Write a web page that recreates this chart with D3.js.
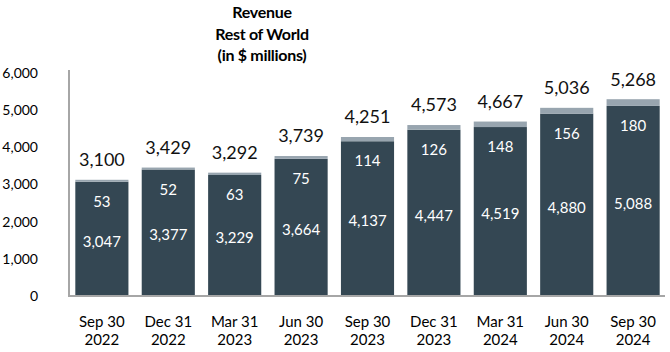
<!DOCTYPE html>
<html>
<head>
<meta charset="utf-8">
<script src="https://cdn.jsdelivr.net/npm/d3@7"></script>
<style>
  body { margin: 0; background: #fff; }
  text { font-family: Lato, "Open Sans", sans-serif; }
</style>
</head>
<body>
<div id="chart"></div>
<script>
var quarters = ["Sep 30|2022", "Dec 31|2022", "Mar 31|2023", "Jun 30|2023", "Sep 30|2023",
                "Dec 31|2023", "Mar 31|2024", "Jun 30|2024", "Sep 30|2024"];
var baseValues = [3047, 3377, 3229, 3664, 4137, 4447, 4519, 4880, 5088];
var topValues = [53, 52, 63, 75, 114, 126, 148, 156, 180];
var totals = [3100, 3429, 3292, 3739, 4251, 4573, 4667, 5036, 5268];
var yTicks = [0, 1000, 2000, 3000, 4000, 5000, 6000];
var titleLines = ["Revenue", "Rest of World", "(in $ millions)"];

function drawChart() {
    var w = 670;
    var h = 352;
    var darkColor = "#344753";
    var lightColor = "#98a5af";
    var fmt = d3.format(",");

    var svg = d3.select("#chart")
                .append("svg")
                .attr("width", w)
                .attr("height", h);

    var x = d3.scaleBand()
              .domain(quarters)
              .range([70, 665])
              .paddingInner(0.2)
              .paddingOuter(0.08);

    var y = d3.scaleLinear()
              .domain([0, 6000])
              .range([295, 72]);

    // title
    svg.append("text")
        .attr("x", 262)
        .attr("y", 18)
        .attr("text-anchor", "middle")
        .style("font-weight", "bold")
        .style("font-size", "16px")
        .style("letter-spacing", "-0.3px")
        .selectAll("tspan")
        .data(titleLines)
        .enter()
        .append("tspan")
        .attr("x", 262)
        .attr("dy", function(d, i){ return i == 0 ? 0 : 21.5; })
        .text(function(d){ return d; });

    // y tick labels (no grid lines)
    svg.append("g")
        .selectAll("text")
        .data(yTicks)
        .enter()
        .append("text")
        .attr("x", 38)
        .attr("y", function(d){ return y(d) + 1; })
        .attr("dy", "0.35em")
        .attr("text-anchor", "end")
        .style("font-size", "14px")
        .text(function(d){ return fmt(d); });

    // bars
    var bars = svg.selectAll("g.bar")
                  .data(quarters)
                  .enter()
                  .append("g")
                  .attr("class", "bar");

    bars.append("rect")
        .attr("x", function(d){ return x(d); })
        .attr("width", x.bandwidth())
        .attr("y", function(d, i){ return y(baseValues[i]); })
        .attr("height", function(d, i){ return y(0) - y(baseValues[i]); })
        .attr("fill", darkColor);

    bars.append("rect")
        .attr("x", function(d){ return x(d); })
        .attr("width", x.bandwidth())
        .attr("y", function(d, i){ return y(baseValues[i] + topValues[i]); })
        .attr("height", function(d, i){ return y(baseValues[i]) - y(baseValues[i] + topValues[i]); })
        .attr("fill", lightColor);

    // labels inside bars
    bars.append("text")
        .attr("x", function(d){ return x(d) + x.bandwidth() / 2; })
        .attr("y", function(d, i){ return (y(baseValues[i]) + y(0)) / 2 + 3; })
        .attr("dy", "0.35em")
        .attr("text-anchor", "middle")
        .style("fill", "white")
        .style("font-size", "15px")
        .text(function(d, i){ return fmt(baseValues[i]); });

    bars.append("text")
        .attr("x", function(d){ return x(d) + x.bandwidth() / 2; })
        .attr("y", function(d, i){ return y(baseValues[i]) + 20; })
        .attr("dy", "0.35em")
        .attr("text-anchor", "middle")
        .style("fill", "white")
        .style("font-size", "15px")
        .text(function(d, i){ return fmt(topValues[i]); });

    bars.append("text")
        .attr("x", function(d){ return x(d) + x.bandwidth() / 2; })
        .attr("y", function(d, i){ return y(totals[i]) - 20; })
        .attr("dy", "0.35em")
        .attr("text-anchor", "middle")
        .style("fill", "#111")
        .style("font-size", "18px")
        .text(function(d, i){ return fmt(totals[i]); });

    // axes lines
    svg.append("line")
        .attr("x1", 69).attr("x2", 69)
        .attr("y1", 70).attr("y2", y(0) + 1)
        .attr("stroke", "#a6a6a6")
        .attr("stroke-width", 2);

    svg.append("line")
        .attr("x1", 68).attr("x2", 665)
        .attr("y1", y(0) + 1).attr("y2", y(0) + 1)
        .attr("stroke", "#a6a6a6")
        .attr("stroke-width", 2);

    // x labels, two lines each
    var xl = svg.append("g")
                .selectAll("text")
                .data(quarters)
                .enter()
                .append("text")
                .attr("text-anchor", "middle")
                .style("font-size", "15px");

    xl.append("tspan")
        .attr("x", function(d){ return x(d) + x.bandwidth() / 2; })
        .attr("y", 327)
        .text(function(d){ return d.split("|")[0]; });

    xl.append("tspan")
        .attr("x", function(d){ return x(d) + x.bandwidth() / 2; })
        .attr("y", 345)
        .text(function(d){ return d.split("|")[1]; });
}

window.onload = drawChart;
</script>
</body>
</html>
